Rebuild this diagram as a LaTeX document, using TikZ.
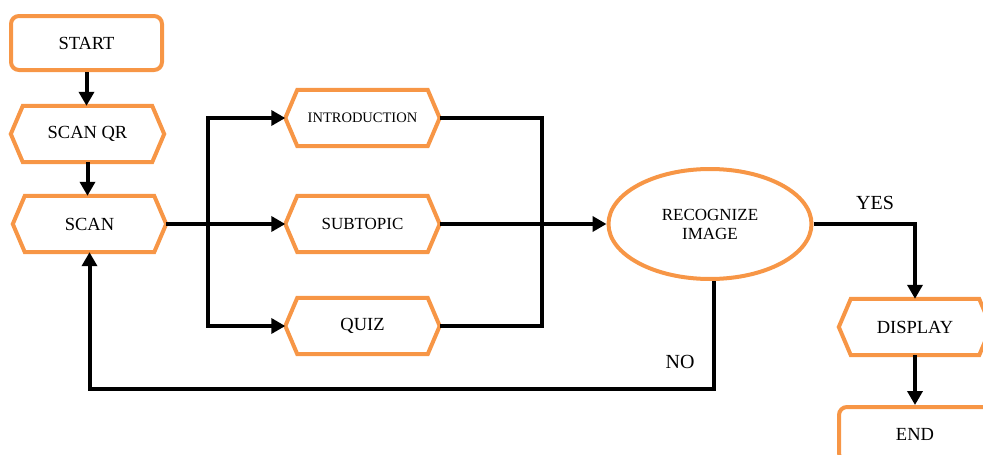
\documentclass[tikz,border=0pt]{standalone}
\usepackage{fontspec}
\setmainfont{Liberation Serif}
\usetikzlibrary{arrows.meta,shapes.geometric}
\definecolor{boxorange}{HTML}{F79646}
\tikzset{
  box/.style={draw=none,inner sep=0pt,font=\fontsize{18.5}{21}\selectfont},
  rbox/.style={box,draw=boxorange,line width=4pt,rounded corners=8pt,minimum width=151pt,minimum height=54pt},
  hexbox/.style={box,minimum width=153pt,minimum height=56pt},
  ebox/.style={box,ellipse,draw=boxorange,line width=4pt,minimum width=203pt,minimum height=110pt,align=center},
  hexline/.style={draw=boxorange,line width=4pt,line join=miter},
  conn/.style={draw=black,line width=4pt,line join=miter},
  arr/.style={conn,-{Triangle[length=14pt,width=15pt]}},
  lbl/.style={font=\fontsize{20}{23}\selectfont,inner sep=0pt}
}
\begin{document}
\begin{tikzpicture}[x=1pt,y=-1pt]
\useasboundingbox (0,0) rectangle (983,455);
% nodes
\node[rbox] (start) at (86.5,43) {START};
\node[hexbox] (scanqr) at (87.5,134) {SCAN QR};
\node[hexbox] (scan) at (89.5,224) {SCAN};
\node[hexbox,minimum width=154pt,font=\fontsize{14.5}{17}\selectfont] (intro) at (362.5,118) {INTRODUCTION};
\node[hexbox,minimum width=154pt,font=\fontsize{17}{20}\selectfont] (sub) at (362.5,224) {SUBTOPIC};
\node[hexbox,minimum width=154pt] (quiz) at (362.5,326) {QUIZ};
\node[ebox,font=\fontsize{17}{19}\selectfont] (rec) at (710,224) {RECOGNIZE\\IMAGE};
\node[hexbox,minimum width=152pt] (disp) at (915,327) {DISPLAY};
\node[rbox,minimum width=152pt] (end) at (915,434) {END};
% hexagon outlines
\foreach \n in {scanqr,scan,intro,sub,quiz,disp}{
  \draw[hexline] ([xshift=12pt]\n.north west) -- ([xshift=-12pt]\n.north east) -- (\n.east)
    -- ([xshift=-12pt]\n.south east) -- ([xshift=12pt]\n.south west) -- (\n.west) -- cycle;
}
% helper coordinates
\coordinate (bus) at (208,0);
\coordinate (join) at (542,0);
\coordinate (noline) at (400,389);
% connectors
\draw[arr] (start.south) -- (start.south |- scanqr.north);
\draw[arr] (scanqr.south) -- (scanqr.south |- scan.north);
\draw[arr] (scan.east) -- (sub.west);
\draw[arr] (bus |- quiz.west) -- (bus |- intro.west) -- (intro.west);
\draw[arr] (bus |- intro.west) -- (bus |- quiz.west) -- (quiz.west);
\draw[conn] (intro.east) -- (join |- intro.east) -- (join |- quiz.east) -- (quiz.east);
\draw[arr] (sub.east) -- (rec.west);
\draw[arr] (rec.east) -| (disp.north);
\draw[arr] (disp.south) -- (end.north);
\draw[arr] ([xshift=4pt]rec.south) -- ([xshift=4pt]rec.south |- noline) -- (scan.south |- noline) -- (scan.south);
% labels
\node[lbl] (yes) at (875,203) {YES};
\node[lbl] (no) at (680,362) {NO};
\end{tikzpicture}
\end{document}
